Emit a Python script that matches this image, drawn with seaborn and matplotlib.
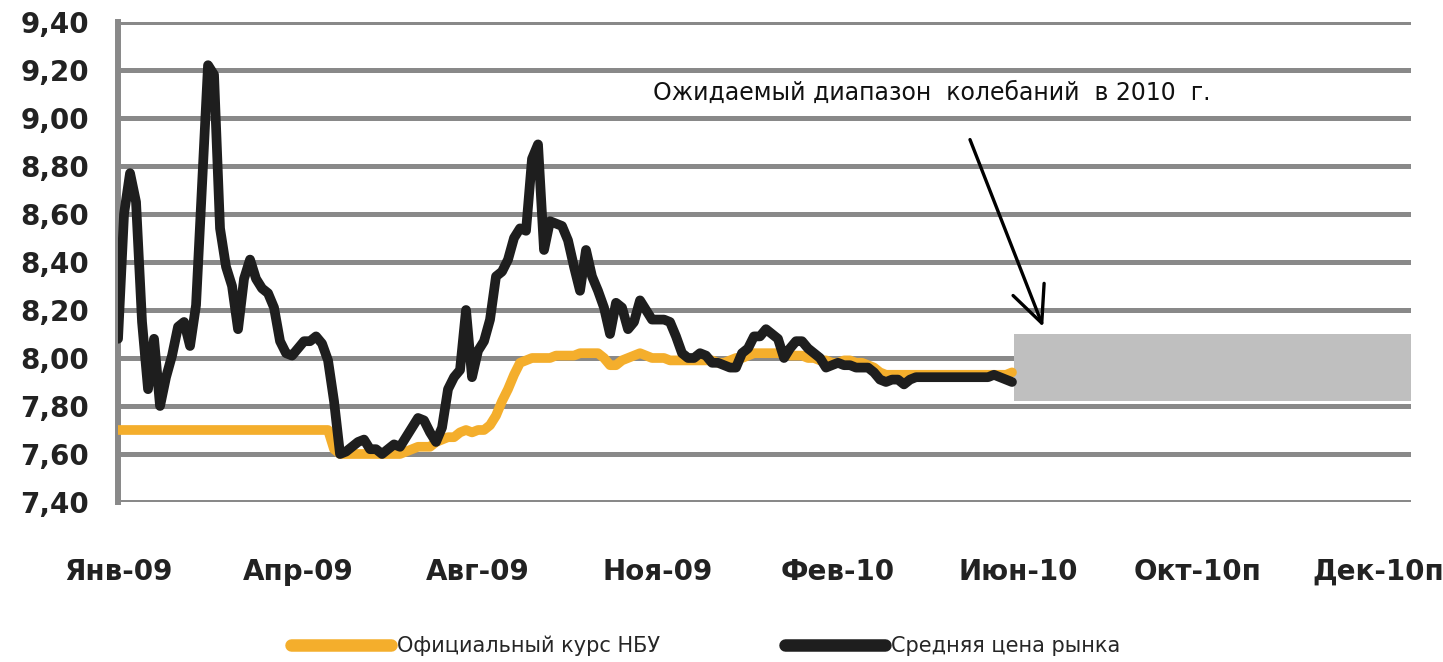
import matplotlib
matplotlib.use('Agg')
import matplotlib.pyplot as plt
import seaborn as sns
import numpy as np
import pandas as pd
from matplotlib.ticker import FuncFormatter

# Подписи оси X (одна подпись на каждые 30 точек ряда)
x_labels = ['Янв-09', 'Апр-09', 'Авг-09', 'Ноя-09', 'Фев-10', 'Июн-10', 'Окт-10п', 'Дек-10п']
label_step = 30

# Средняя цена рынка (UAH/USD), точки через равные интервалы
market = [
    8.08, 8.60, 8.77, 8.65, 8.15, 7.87, 8.08, 7.80, 7.92, 8.01,
    8.13, 8.15, 8.05, 8.22, 8.72, 9.22, 9.18, 8.54, 8.38, 8.30,
    8.12, 8.33, 8.41, 8.33, 8.29, 8.27, 8.21, 8.07, 8.02, 8.01,
    8.04, 8.07, 8.07, 8.09, 8.06, 7.99, 7.82, 7.60, 7.61, 7.63,
    7.65, 7.66, 7.62, 7.62, 7.60, 7.62, 7.64, 7.63, 7.67, 7.71,
    7.75, 7.74, 7.69, 7.65, 7.71, 7.87, 7.92, 7.95, 8.20, 7.92,
    8.03, 8.07, 8.16, 8.34, 8.36, 8.41, 8.50, 8.54, 8.53, 8.83,
    8.89, 8.45, 8.57, 8.56, 8.55, 8.49, 8.38, 8.28, 8.45, 8.34,
    8.28, 8.21, 8.10, 8.23, 8.21, 8.12, 8.15, 8.24, 8.20, 8.16,
    8.16, 8.16, 8.15, 8.09, 8.02, 8.00, 8.00, 8.02, 8.01, 7.98,
    7.98, 7.97, 7.96, 7.96, 8.02, 8.04, 8.09, 8.09, 8.12, 8.10,
    8.08, 8.00, 8.04, 8.07, 8.07, 8.04, 8.02, 8.00, 7.96, 7.97,
    7.98, 7.97, 7.97, 7.96, 7.96, 7.96, 7.94, 7.91, 7.90, 7.91,
    7.91, 7.89, 7.91, 7.92, 7.92, 7.92, 7.92, 7.92, 7.92, 7.92,
    7.92, 7.92, 7.92, 7.92, 7.92, 7.92, 7.93, 7.92, 7.91, 7.90,
]

# Официальный курс НБУ
official = [
    7.70, 7.70, 7.70, 7.70, 7.70, 7.70, 7.70, 7.70, 7.70, 7.70,
    7.70, 7.70, 7.70, 7.70, 7.70, 7.70, 7.70, 7.70, 7.70, 7.70,
    7.70, 7.70, 7.70, 7.70, 7.70, 7.70, 7.70, 7.70, 7.70, 7.70,
    7.70, 7.70, 7.70, 7.70, 7.70, 7.70, 7.62, 7.60, 7.60, 7.60,
    7.60, 7.60, 7.60, 7.60, 7.60, 7.60, 7.60, 7.60, 7.61, 7.62,
    7.63, 7.63, 7.63, 7.65, 7.66, 7.67, 7.67, 7.69, 7.70, 7.69,
    7.70, 7.70, 7.72, 7.76, 7.82, 7.87, 7.93, 7.98, 7.99, 8.00,
    8.00, 8.00, 8.00, 8.01, 8.01, 8.01, 8.01, 8.02, 8.02, 8.02,
    8.02, 8.00, 7.97, 7.97, 7.99, 8.00, 8.01, 8.02, 8.01, 8.00,
    8.00, 8.00, 7.99, 7.99, 7.99, 7.99, 7.99, 7.99, 7.99, 7.99,
    7.98, 7.98, 7.99, 8.00, 8.00, 8.01, 8.02, 8.02, 8.02, 8.02,
    8.02, 8.02, 8.01, 8.01, 8.01, 8.00, 8.00, 7.99, 7.99, 7.98,
    7.98, 7.99, 7.99, 7.98, 7.98, 7.97, 7.96, 7.94, 7.93, 7.93,
    7.93, 7.93, 7.93, 7.93, 7.93, 7.93, 7.93, 7.93, 7.93, 7.93,
    7.93, 7.93, 7.93, 7.93, 7.93, 7.93, 7.93, 7.93, 7.93, 7.94,
]

# Ожидаемый диапазон колебаний в 2010 г.
band_low, band_high = 7.82, 8.10
y_ticks = [7.40, 7.60, 7.80, 8.00, 8.20, 8.40, 8.60, 8.80, 9.00, 9.20, 9.40]

ORANGE = '#f4ae2c'
BLACK = '#1e1e1e'
GRID = '#898989'
BAND = '#bfbfbf'

sns.set_style('white')
plt.rcParams['font.family'] = ['DejaVu Sans']

df = pd.DataFrame({
    'x': np.concatenate([np.arange(len(official)), np.arange(len(market))]),
    'курс': official + market,
    'серия': ['Официальный курс НБУ'] * len(official) + ['Средняя цена рынка'] * len(market),
})

fig = plt.figure(figsize=(14.43, 6.62), dpi=100)
ax = fig.add_axes([0.0818, 0.2417, 0.896, 0.7251])

# Серый прямоугольник прогноза
band_x0 = len(market) - 0.7
x_max = label_step * (len(x_labels) - 1) + 5.5
ax.fill_between([band_x0, x_max], band_low, band_high, color=BAND, lw=0, zorder=1)

sns.lineplot(data=df, x='x', y='курс', hue='серия',
             palette=[ORANGE, BLACK], linewidth=7, ax=ax, zorder=3,
             legend=True)

# Сетка и оси
for yv in y_ticks:
    ax.axhline(yv, color=GRID, lw=3.6, zorder=0, solid_capstyle='butt')
ax.set_xlim(0, x_max)
ax.set_ylim(y_ticks[0], y_ticks[-1])
for s in ['top', 'right', 'bottom']:
    ax.spines[s].set_visible(False)
ax.spines['left'].set_color(GRID)
ax.spines['left'].set_linewidth(4.3)

ax.set_yticks(y_ticks)
ax.yaxis.set_major_formatter(FuncFormatter(lambda v, p: f'{v:.2f}'.replace('.', ',')))
ax.tick_params(axis='y', length=9, width=3.6, color=GRID, pad=12, labelsize=20)
ax.set_xticks([i * label_step for i in range(len(x_labels))])
ax.set_xticklabels(x_labels)
ax.tick_params(axis='x', length=0, pad=40, labelsize=20)
for lab in ax.get_xticklabels() + ax.get_yticklabels():
    lab.set_fontweight('bold')
    lab.set_color('#222222')
ax.set_xlabel('')
ax.set_ylabel('')

# Подпись и стрелка
ax.text(135.7, 9.104, 'Ожидаемый диапазон  колебаний  в 2010  г.',
        ha='center', va='center', fontsize=17, color='#111111')
ax.annotate('', xy=(154.2, 8.13), xytext=(142, 8.91),
            arrowprops=dict(arrowstyle='->,head_length=1.3,head_width=0.6',
                            lw=2.4, color='black', mutation_scale=20,
                            shrinkA=0, shrinkB=0))

# Легенда внизу
handles, labels = ax.get_legend_handles_labels()
ax.legend_.remove()
leg = fig.legend(handles, labels, loc='lower center', bbox_to_anchor=(0.489, -0.02),
                 ncol=2, frameon=False, fontsize=15, handlelength=4.8,
                 handletextpad=0.3, columnspacing=6)
for h in leg.get_lines():
    h.set_linewidth(9)
    h.set_solid_capstyle('round')

fig.savefig('out.png', dpi=100)
plt.close(fig)
